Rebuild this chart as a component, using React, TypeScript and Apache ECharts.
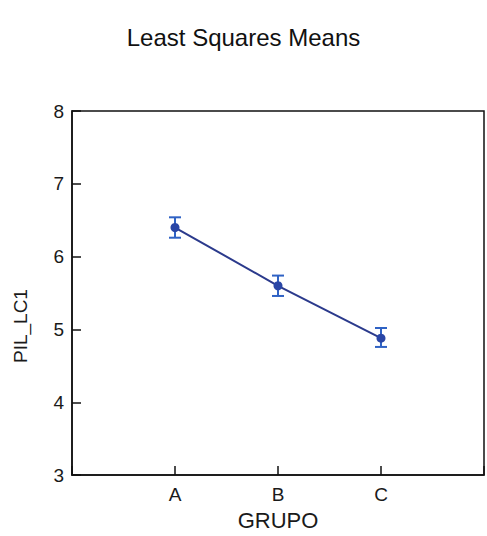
import React, { useEffect, useRef } from "react";
import * as echarts from "echarts";

const categories = ["A", "B", "C"];
const means = [6.4, 5.6, 4.88];
const lower = [6.26, 5.46, 4.76];
const upper = [6.54, 5.74, 5.02];
const yTicks = { min: 3, max: 8, interval: 1 };

const FONT = "Liberation Sans, Arial, sans-serif";

export default function App() {
  const ref = useRef<HTMLDivElement>(null);
  useEffect(() => {
    if (!ref.current) return;
    const chart = echarts.init(ref.current, null, { renderer: "svg" });
    const lineData = categories.map((_, i) => [i + 1, means[i]]);
    const errData = categories.map((_, i) => [i + 1, lower[i], upper[i]]);
    chart.setOption({
      animation: false,
      backgroundColor: "#ffffff",
      title: {
        text: "Least Squares Means",
        left: "center",
        top: 20,
        textStyle: {
          fontFamily: FONT,
          fontSize: 24,
          fontWeight: "normal",
          color: "#111111",
        },
      },
      grid: {
        left: 72,
        right: 1,
        top: 111,
        bottom: 56,
        show: true,
        borderColor: "#111111",
        borderWidth: 1.5,
        backgroundColor: "transparent",
      },
      xAxis: {
        type: "value",
        min: 0,
        max: 4,
        interval: 1,
        name: "GRUPO",
        nameLocation: "middle",
        nameGap: 31,
        nameTextStyle: {
          fontFamily: FONT,
          fontSize: 22,
          color: "#1a1a1a",
        },
        splitLine: { show: false },
        axisLine: { show: true, lineStyle: { color: "#111111", width: 1.5 } },
        axisTick: {
          show: true,
          inside: true,
          length: 9,
          lineStyle: { color: "#111111", width: 1.5 },
        },
        axisLabel: {
          margin: 10,
          fontFamily: FONT,
          fontSize: 19,
          color: "#1a1a1a",
          formatter: (v: number) => categories[v - 1] ?? "",
        },
      },
      yAxis: {
        type: "value",
        min: yTicks.min,
        max: yTicks.max,
        interval: yTicks.interval,
        name: "PIL_LC1",
        nameLocation: "middle",
        nameGap: 42,
        nameTextStyle: {
          fontFamily: FONT,
          fontSize: 19,
          color: "#1a1a1a",
          padding: [0, 66, 0, 0],
        },
        splitLine: { show: false },
        axisLine: { show: true, lineStyle: { color: "#111111", width: 1.5 } },
        axisTick: {
          show: true,
          inside: true,
          length: 9,
          lineStyle: { color: "#111111", width: 1.5 },
        },
        axisLabel: {
          margin: 8,
          fontFamily: FONT,
          fontSize: 19,
          color: "#1a1a1a",
        },
      },
      series: [
        {
          type: "custom",
          name: "error",
          data: errData,
          z: 3,
          renderItem: (params: any, api: any) => {
            const x = api.value(0);
            const lo = api.coord([x, api.value(1)]);
            const hi = api.coord([x, api.value(2)]);
            const w = 6;
            const style = { stroke: "#2f62c4", lineWidth: 2 };
            return {
              type: "group",
              children: [
                { type: "line", shape: { x1: lo[0], y1: lo[1], x2: hi[0], y2: hi[1] }, style },
                { type: "line", shape: { x1: lo[0] - w, y1: lo[1], x2: lo[0] + w, y2: lo[1] }, style },
                { type: "line", shape: { x1: hi[0] - w, y1: hi[1], x2: hi[0] + w, y2: hi[1] }, style },
              ],
            };
          },
        },
        {
          type: "line",
          name: "LS Mean",
          data: lineData,
          z: 4,
          symbol: "circle",
          symbolSize: 9,
          lineStyle: { color: "#2b3a8c", width: 2 },
          itemStyle: { color: "#2a46a6" },
        },
      ],
    });
    return () => chart.dispose();
  }, []);
  return (
    <div
      ref={ref}
      style={{ position: "fixed", left: 0, top: 0, width: 487, height: 536 }}
    />
  );
}
